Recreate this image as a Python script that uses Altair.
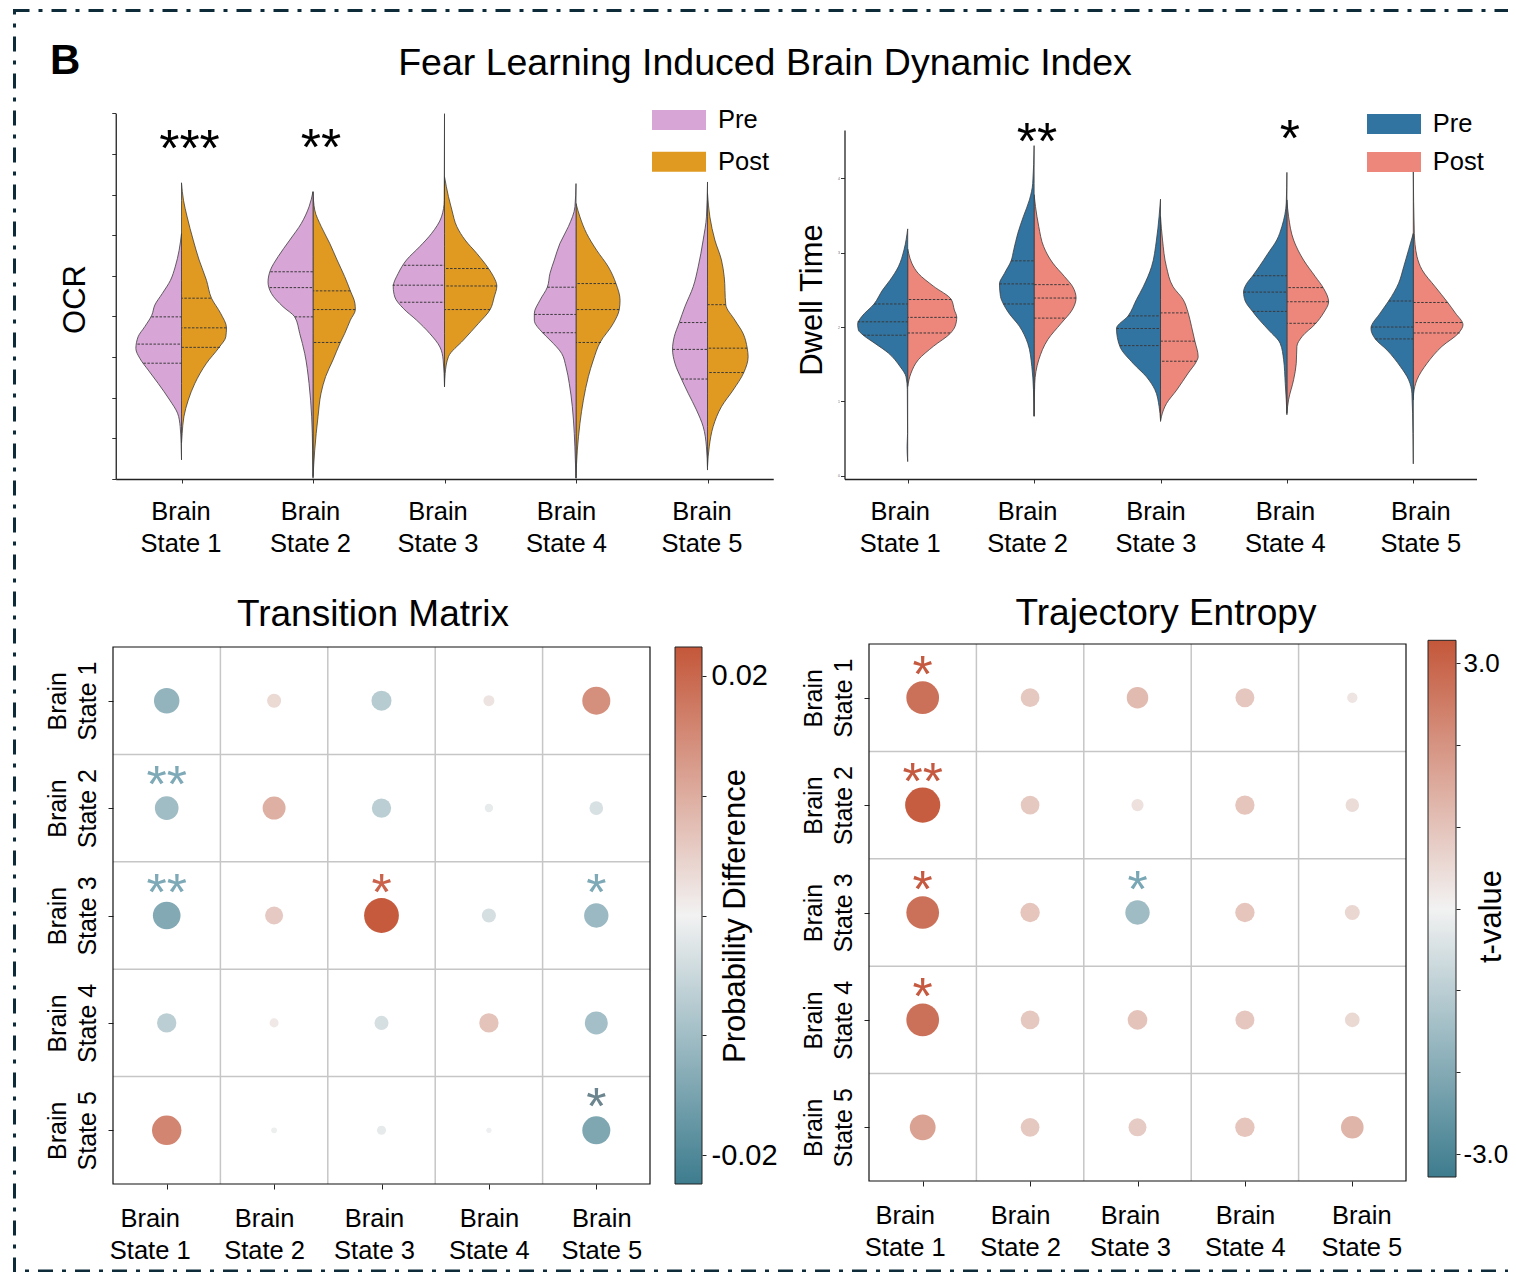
import json
import altair as alt
import pandas as pd

# ---------------------------------------------------------------- data
STATES = ["Brain State 1", "Brain State 2", "Brain State 3", "Brain State 4", "Brain State 5"]
GROUPS = ["Pre", "Post"]

# OCR split violins: (value, half-width in category units), one list per brain state
OCR_PRE = [
    [(6.04, 0), (5.63, .018), (5.22, .048), (4.89, .084), (4.57, .145), (4.28, .203), (4.03, .226), (3.75, .279),
     (3.50, .33), (3.21, .347), (2.97, .317), (2.68, .253), (2.35, .177), (1.94, .089), (1.62, .030), (1.29, .010),
     (0.88, .003), (0.47, 0)],
    [(7.07, 0), (6.70, .030), (6.29, .089), (5.88, .177), (5.47, .266), (5.14, .324), (4.85, .342), (4.57, .317),
     (4.24, .228), (3.99, .139), (3.58, .101), (3.09, .063), (2.35, .030), (1.53, .010), (0.71, .003), (0.06, 0)],
    [(8.99, 0), (6.86, .002), (6.45, .023), (6.04, .099), (5.72, .188), (5.39, .289), (5.06, .352), (4.73, .39),
     (4.48, .378), (4.20, .314), (3.91, .213), (3.58, .112), (3.25, .035), (2.93, .01), (2.27, 0)],
    [(7.27, 0), (6.70, .008), (6.21, .058), (5.80, .122), (5.39, .165), (5.06, .198), (4.72, .218), (4.40, .274),
     (4.07, .317), (3.91, .317), (3.60, .254), (3.42, .198), (3.09, .109), (2.76, .076), (2.35, .051), (1.78, .028),
     (1.12, .013), (0.47, .005), (0.02, 0)],
    [(7.31, 0), (6.45, .008), (5.88, .033), (5.22, .071), (4.73, .109), (4.24, .172), (3.85, .215), (3.50, .253),
     (3.19, .266), (2.85, .248), (2.46, .198), (2.11, .147), (1.70, .084), (1.29, .033), (0.79, .008), (0.22, 0)],
]
OCR_POST = [
    [(7.29, 0), (6.86, .015), (6.45, .043), (5.88, .089), (5.39, .134), (4.89, .19), (4.45, .228), (4.08, .297),
     (3.72, .342), (3.50, .337), (3.24, .286), (2.85, .19), (2.35, .101), (1.94, .051), (1.53, .018), (1.12, .005),
     (0.88, 0)],
    [(7.07, 0), (6.62, .013), (6.21, .063), (5.80, .127), (5.39, .183), (4.98, .241), (4.63, .284), (4.32, .319),
     (4.17, .322), (3.91, .284), (3.58, .241), (3.36, .208), (2.93, .152), (2.52, .096), (2.11, .061), (1.53, .038),
     (0.71, .013), (0.02, 0)],
    [(7.44, 0), (6.95, .030), (6.62, .056), (6.21, .094), (5.88, .157), (5.55, .246), (5.18, .335), (4.98, .373),
     (4.75, .398), (4.48, .378), (4.17, .347), (3.83, .259), (3.42, .144), (3.01, .030), (2.60, .005), (2.27, 0)],
    [(6.78, 0), (6.45, .030), (6.04, .081), (5.63, .157), (5.22, .246), (4.81, .304), (4.40, .335), (4.17, .329),
     (3.83, .284), (3.36, .183), (2.93, .132), (2.52, .094), (1.94, .056), (1.37, .030), (0.71, .010), (0.02, 0)],
    [(7.03, 0), (6.45, .018), (5.88, .056), (5.39, .106), (4.98, .127), (4.29, .139), (3.91, .208), (3.58, .271),
     (3.22, .302), (3.01, .309), (2.62, .276), (2.19, .195), (1.78, .106), (1.29, .043), (0.79, .013), (0.30, 0)],
]
# quartile lines (Q3, median, Q1): (value, half-width)
OCR_PRE_Q = [[(3.99, .228), (3.32, .335), (2.85, .29)], [(5.10, .324), (4.71, .33), (3.99, .139)],
             [(5.26, .309), (4.77, .395), (4.35, .339)], [(4.72, .218), (4.05, .317), (3.60, .254)],
             [(3.85, .21), (3.19, .266), (2.46, .198)]]
OCR_POST_Q = [[(4.45, .223), (3.72, .342), (3.24, .292)], [(4.63, .284), (4.17, .322), (3.36, .208)],
              [(5.18, .335), (4.75, .398), (4.17, .347)], [(4.81, .304), (4.17, .329), (3.36, .19)],
              [(4.29, .139), (3.22, .302), (2.62, .276)]]
OCR_STARS = ["***", "**", "", "", ""]
OCR_STAR_Y = [8.34, 8.36, 0, 0, 0]

DWELL_PRE = [
    [(3.32, 0), (3.04, .029), (2.81, .074), (2.63, .140), (2.50, .198), (2.31, .266), (2.14, .364), (2.04, .396),
     (1.96, .390), (1.89, .351), (1.78, .259), (1.65, .153), (1.47, .061), (1.33, .013), (1.16, .003), (0.57, .001),
     (0.39, .005), (0.19, 0)],
    [(4.44, 0), (3.93, .011), (3.71, .037), (3.49, .084), (3.26, .129), (3.04, .161), (2.89, .182), (2.72, .235),
     (2.58, .274), (2.41, .266), (2.31, .243), (2.19, .201), (2.01, .116), (1.78, .050), (1.47, .018), (1.16, .005),
     (0.80, 0)],
    [(3.72, 0), (3.49, .011), (3.17, .032), (2.81, .071), (2.54, .137), (2.37, .19), (2.15, .256), (1.98, .348),
     (1.74, .322), (1.51, .216), (1.33, .111), (1.16, .045), (0.93, .011), (0.75, 0)],
    [(4.08, 0), (3.67, .005), (3.35, .040), (3.17, .080), (2.99, .150), (2.81, .220), (2.69, .270), (2.58, .320),
     (2.47, .343), (2.35, .330), (2.21, .272), (2.09, .215), (1.96, .145), (1.78, .053), (1.56, .026), (1.24, .013),
     (1.02, .005), (0.82, 0)],
    [(3.26, 0), (3.04, .037), (2.81, .076), (2.59, .116), (2.35, .195), (2.19, .261), (1.98, .335), (1.84, .301),
     (1.69, .208), (1.47, .103), (1.29, .037), (1.11, .011), (0.57, .003), (0.16, 0)],
]
DWELL_POST = [
    [(3.05, 0), (2.99, .008), (2.86, .032), (2.72, .084), (2.55, .203), (2.37, .345), (2.23, .369), (2.13, .388),
     (2.01, .375), (1.92, .340), (1.74, .203), (1.56, .084), (1.38, .026), (1.20, 0)],
    [(3.78, 0), (3.62, .011), (3.35, .037), (3.08, .076), (2.86, .148), (2.68, .240), (2.54, .306), (2.39, .332),
     (2.23, .301), (2.05, .214), (1.83, .108), (1.56, .037), (1.24, .005), (0.80, 0)],
    [(3.49, 0), (3.17, .016), (2.81, .047), (2.54, .100), (2.37, .179), (2.19, .219), (2.01, .245), (1.81, .272),
     (1.60, .298), (1.54, .285), (1.38, .219), (1.15, .127), (0.97, .047), (0.80, .008), (0.73, 0)],
    [(3.71, 0), (3.49, .013), (3.17, .053), (2.90, .132), (2.68, .224), (2.52, .290), (2.34, .330), (2.19, .290),
     (2.04, .224), (1.87, .119), (1.74, .079), (1.51, .074), (1.29, .053), (1.02, .013), (0.84, 0)],
    [(4.11, 0), (3.26, .008), (2.95, .029), (2.77, .069), (2.54, .174), (2.33, .272), (2.19, .332), (2.03, .393),
     (1.92, .359), (1.74, .227), (1.51, .108), (1.29, .029), (1.11, .003), (1.02, 0)],
]
DWELL_PRE_Q = [[(2.31, .266), (2.07, .396), (1.89, .351)], [(2.89, .182), (2.58, .274), (2.31, .243)],
               [(2.15, .256), (1.98, .348), (1.75, .32)], [(2.69, .269), (2.47, .343), (2.21, .269)],
               [(2.35, .195), (2.00, .335), (1.84, .301)]]
DWELL_POST_Q = [[(2.37, .345), (2.13, .388), (1.92, .335)], [(2.57, .274), (2.39, .332), (2.12, .24)],
                [(2.19, .206), (1.81, .272), (1.54, .285)], [(2.53, .285), (2.34, .330), (2.05, .229)],
                [(2.33, .272), (2.06, .385), (1.92, .367)]]
DWELL_STARS = ["", "**", "", "*", ""]
DWELL_STAR_Y = [0, 4.61, 0, 4.65, 0]

# Transition matrix: probability difference (rows = from state, cols = to state)
TM_VALUES = [
    [-0.0118, 0.0036, -0.0073, 0.0022, 0.0143],
    [-0.0102, 0.0096, -0.0068, -0.0013, -0.0034],
    [-0.0139, 0.0059, 0.0220, -0.0036, -0.0108],
    [-0.0068, 0.0015, -0.0036, 0.0068, -0.0096],
    [0.0157, -0.0006, -0.0015, -0.0005, -0.0143],
]
TM_STARS = [(1, 0, "**"), (2, 0, "**"), (2, 2, "*"), (2, 4, "*"), (4, 4, "*")]
TM_STAR_COLORS = ["#7ea9b7", "#7ea9b7", "#cb624b", "#7ea9b7", "#6c858e"]

# Trajectory entropy: t-values
TE_VALUES = [
    [2.68, 0.88, 1.16, 0.90, 0.27],
    [3.10, 0.88, 0.37, 0.94, 0.46],
    [2.68, 0.94, -1.49, 0.94, 0.56],
    [2.68, 0.88, 0.97, 0.90, 0.54],
    [1.67, 0.88, 0.81, 0.94, 1.28],
]
TE_STARS = [(0, 0, "*"), (1, 0, "**"), (2, 0, "*"), (3, 0, "*"), (2, 2, "*")]
TE_STAR_COLORS = ["#c65a40", "#c65a40", "#c65a40", "#c65a40", "#7aa7b5"]

CB1_TICKS = [-0.02, -0.01, 0, 0.01, 0.02]
CB1_LABELS = ["-0.02", "", "", "", "0.02"]
CB2_TICKS = [-3, -2, -1, 0, 1, 2, 3]
CB2_LABELS = ["-3.0", "", "", "", "", "", "3.0"]

# ---------------------------------------------------------------- style / layout
FONT = "Liberation Sans"
STAR_FONT = "Liberation Sans"
STAR_SIZE = 52
W, H = 1495, 1262
PRE1, POST1 = "#d7a6d6", "#e09a21"
PRE2, POST2 = "#3173a1", "#ed877c"
LOW, MID, HIGH = "#3d7c8e", "#f2f2f2", "#c4573a"
GRID = "#c6c6c6"
BORDER = "#0e2b3a"
RECT_SYMBOL = "M-2,-0.74H2V0.74H-2Z"
# horizontal nudges (px) of the category tick labels, as placed in the figure
OCR_LABEL_DX = [-1, -3, -7, -10, -6]
DWELL_LABEL_DX = [-8, -7, -5, -2, 7]
TM_LABEL_DX = [-17, -10, -7.5, 0, 5]
TE_LABEL_DX = [-18, -10, -7.5, 0, 9]

LABELS = json.dumps([s.split(" ", 1) for s in STATES])
STATE_LABEL_EXPR = f"{LABELS}[round(datum.value)]"
EDGE = "datum.state + (datum.grp === 'Pre' ? -datum.w : datum.w)"


def lin(domain, rng):
    return alt.Scale(domain=domain, range=rng, nice=False, zero=False)


def nudge(dx):
    return alt.ExprRef(expr=f"{json.dumps(dx)}[round(datum.value)]")


def violin_panel(pre, post, pre_q, post_q, stars, star_y, star_dx, colors, xr, yr, ydom, yticks,
                 ytitle, ytitle_x, ytitle_y, ylabel_size, legend, label_dx):
    rows, qrows, srows = [], [], []
    for i in range(5):
        for grp, shape, quart in (("Pre", pre[i], pre_q[i]), ("Post", post[i], post_q[i])):
            for y, w in shape:
                rows.append(dict(state=i, grp=grp, key=f"{grp}{i}", y=y, w=w))
            for y, w in quart:
                qrows.append(dict(state=i, grp=grp, y=y, w=w))
        if stars[i]:
            srows.append(dict(state=i, label=stars[i], y=star_y[i]))
    df = pd.DataFrame(rows).sort_values(["key", "y"])
    qdf = pd.DataFrame(qrows)
    sdf = pd.DataFrame(srows)
    xs = lin([-0.5, 4.5], xr)
    ys = lin(ydom, yr)
    x_axis = alt.Axis(orient="bottom", offset=yr[0] - H, values=[0, 1, 2, 3, 4], labelExpr=STATE_LABEL_EXPR,
                      labelFontSize=25.5, labelLineHeight=32, labelBaseline="top", labelAlign="center",
                      labelPadding=16, labelFlush=False, labelOverlap=False, labelOffset=nudge(label_dx),
                      tickSize=4, tickColor="#333", domainColor="#222", domainWidth=1.3, grid=False, title=None)
    y_axis = alt.Axis(orient="left", offset=-xr[0], values=yticks, labels=ylabel_size > 1,
                      labelFontSize=max(ylabel_size, 1), labelPadding=1, labelColor="#666", tickSize=4,
                      tickColor="#333", domainColor="#222", domainWidth=1.3, grid=False, title=ytitle,
                      titleFontSize=31, titleAngle=270, titleAlign="center", titleBaseline="middle",
                      titleX=ytitle_x, titleY=ytitle_y)
    area = alt.Chart(df).transform_calculate(edge=EDGE).mark_area(
        orient="horizontal", interpolate="monotone", stroke="#3c3c3c", strokeWidth=0.8, opacity=1
    ).encode(
        y=alt.Y("y:Q", scale=ys, axis=y_axis),
        x=alt.X("edge:Q", scale=xs, axis=x_axis),
        x2="state:Q",
        color=alt.Color("grp:N", scale=alt.Scale(domain=GROUPS, range=colors), legend=legend),
        detail="key:N",
    )
    quart = alt.Chart(qdf).transform_calculate(edge=EDGE).mark_rule(
        color="#3a3a3a", strokeWidth=1, strokeDash=[2.5, 1.5]
    ).encode(
        y=alt.Y("y:Q", scale=ys, axis=y_axis),
        x=alt.X("edge:Q", scale=xs, axis=x_axis),
        x2="state:Q",
    )
    star = alt.Chart(sdf).mark_text(
        font=STAR_FONT, fontSize=STAR_SIZE, dy=26, dx=star_dx, color="black", align="center",
        baseline="alphabetic"
    ).encode(
        x=alt.X("state:Q", scale=xs, axis=x_axis),
        y=alt.Y("y:Q", scale=ys, axis=y_axis),
        text="label:N",
    )
    return alt.layer(area, quart, star)


def matrix_panel(values, stars, star_colors, xr, yr, cmax, max_area, label_dx):
    cells = pd.DataFrame([dict(r=r, c=c, v=values[r][c]) for r in range(5) for c in range(5)])
    sdf = pd.DataFrame([dict(r=r, c=c, label=lab, col=col) for (r, c, lab), col in zip(stars, star_colors)])
    gdf = pd.DataFrame({"g": [0.5, 1.5, 2.5, 3.5]})
    one = pd.DataFrame({"a": [0]})
    xs = lin([-0.5, 4.5], xr)
    ys = lin([-0.5, 4.5], yr)
    x_axis = alt.Axis(orient="bottom", offset=yr[1] - H, values=[0, 1, 2, 3, 4], labelExpr=STATE_LABEL_EXPR,
                      labelFontSize=25.5, labelLineHeight=32, labelBaseline="top", labelAlign="center",
                      labelPadding=17, labelFlush=False, labelOverlap=False, labelOffset=nudge(label_dx),
                      tickSize=5, tickColor="#222", domain=False, grid=False, title=None)
    y_axis = alt.Axis(orient="left", offset=-xr[0], values=[0, 1, 2, 3, 4], labelExpr=STATE_LABEL_EXPR,
                      labelFontSize=25, labelLineHeight=30, labelAngle=270, labelAlign="center",
                      labelBaseline="bottom", labelPadding=37.5, labelFlush=False, labelOverlap=False,
                      tickSize=5, tickColor="#222", domain=False, grid=False, title=None)
    vgrid = alt.Chart(gdf).mark_rule(color=GRID, strokeWidth=1.5).encode(
        x=alt.X("g:Q", scale=xs, axis=x_axis),
        y=alt.YDatum(-0.5, scale=ys, axis=y_axis),
        y2=alt.Y2Datum(4.5),
    )
    hgrid = alt.Chart(gdf).mark_rule(color=GRID, strokeWidth=1.5).encode(
        y=alt.Y("g:Q", scale=ys, axis=y_axis),
        x=alt.XDatum(-0.5, scale=xs, axis=x_axis),
        x2=alt.X2Datum(4.5),
    )
    circles = alt.Chart(cells).transform_calculate(a="abs(datum.v)").mark_circle(opacity=1).encode(
        x=alt.X("c:Q", scale=xs, axis=x_axis),
        y=alt.Y("r:Q", scale=ys, axis=y_axis),
        color=alt.Color("v:Q", scale=alt.Scale(domain=[-cmax, 0, cmax], range=[LOW, MID, HIGH],
                                               interpolate="rgb", clamp=True), legend=None),
        size=alt.Size("a:Q", scale=alt.Scale(domain=[0, cmax], range=[0, max_area], zero=True), legend=None),
    )
    star = alt.Chart(sdf).mark_text(
        font=STAR_FONT, fontSize=STAR_SIZE, dy=-6, align="center", baseline="alphabetic"
    ).encode(
        x=alt.X("c:Q", scale=xs, axis=x_axis),
        y=alt.Y("r:Q", scale=ys, axis=y_axis),
        text="label:N",
        color=alt.Color("col:N", scale=None),
    )
    frame = alt.Chart(one).mark_rect(fillOpacity=0, stroke="#111", strokeWidth=1.2).encode(
        x=alt.XDatum(-0.5, scale=xs, axis=x_axis), x2=alt.X2Datum(4.5),
        y=alt.YDatum(-0.5, scale=ys, axis=y_axis), y2=alt.Y2Datum(4.5),
    )
    return alt.layer(vgrid, hgrid, circles, star, frame)


def colorbar(cmax, xr, yr, ticks, labels, title, title_x, title_y, label_size, label_pad):
    one = pd.DataFrame({"a": [0]})
    grad = alt.LinearGradient(
        gradient="linear",
        stops=[alt.GradientStop(color=LOW, offset=0), alt.GradientStop(color=MID, offset=0.5),
               alt.GradientStop(color=HIGH, offset=1)],
        x1=0, x2=0, y1=1, y2=0,
    )
    expr = f"{json.dumps(labels)}[indexof({json.dumps(ticks)}, datum.value)]"
    axis = alt.Axis(orient="right", offset=xr[1] - W, values=ticks, labelExpr=expr, labelFontSize=label_size,
                    labelPadding=label_pad, labelAlign="left", labelBaseline="middle", labelFlush=False,
                    labelOverlap=False, tickSize=4, tickColor="#222", domain=False, grid=False,
                    title=title, titleFontSize=31, titleAngle=270, titleAlign="center",
                    titleBaseline="middle", titleX=title_x, titleY=title_y)
    return alt.Chart(one).mark_rect(fill=grad, stroke="#222", strokeWidth=1).encode(
        x=alt.XDatum(0, scale=lin([0, 1], xr), axis=None), x2=alt.X2Datum(1),
        y=alt.YDatum(-cmax, scale=lin([-cmax, cmax], yr), axis=axis), y2=alt.Y2Datum(cmax),
    )


def text_mark(text, x, y, size, weight="normal", align="center"):
    return alt.Chart(pd.DataFrame({"t": [text]})).mark_text(
        font=FONT, fontSize=size, fontWeight=weight, align=align, baseline="alphabetic", color="black"
    ).encode(x=alt.value(x), y=alt.value(y), text="t:N")


def legend(x, y, row_pad, label_offset):
    return alt.Legend(orient="none", legendX=x, legendY=y, title=None, symbolType=RECT_SYMBOL,
                      symbolSize=729, symbolStrokeWidth=0, symbolOffset=13.5, symbolOpacity=1,
                      labelOffset=label_offset, rowPadding=row_pad, labelFontSize=25.5, padding=0,
                      labelColor="black")


ocr = violin_panel(OCR_PRE, OCR_POST, OCR_PRE_Q, OCR_POST_Q, OCR_STARS, OCR_STAR_Y, 8, [PRE1, POST1],
                   [102.75, 760.25], [469, 103.3], [0, 9], list(range(10)), "OCR", -40.75, 289, 0,
                   legend(639, 96.5, 14.7, 25.5), OCR_LABEL_DX)
dwell = violin_panel(DWELL_PRE, DWELL_POST, DWELL_PRE_Q, DWELL_POST_Q, DWELL_STARS, DWELL_STAR_Y, 3,
                     [PRE2, POST2], [831.5, 1463.5], [469, 120], [-0.044, 4.65], [0, 1, 2, 3, 4],
                     "Dwell Time", -32, 289.5, 3.5, legend(1354, 100.5, 11, 25.2), DWELL_LABEL_DX)
tm = matrix_panel(TM_VALUES, TM_STARS, TM_STAR_COLORS, [100, 637], [637, 1174], 0.0224, 1232, TM_LABEL_DX)
te = matrix_panel(TE_VALUES, TE_STARS, TE_STAR_COLORS, [856, 1393], [634, 1171], 3.23, 1289, TE_LABEL_DX)
cb1 = colorbar(0.0224, [662, 689], [1174, 637], CB1_TICKS, CB1_LABELS, "Probability Difference", 33, 905.5,
               29, 5)
cb2 = colorbar(3.28, [1415, 1443], [1167, 630.3], CB2_TICKS, CB2_LABELS, "t-value", 35, 906, 26, 3)

border = alt.Chart(pd.DataFrame({"a": [0]})).mark_rect(
    fillOpacity=0, stroke=BORDER, strokeWidth=3, strokeDash=[15, 9, 4, 9]
).encode(x=alt.value(1.5), x2=alt.value(W + 60), y=alt.value(0.5), y2=alt.value(H - 1))

chart = alt.layer(
    border,
    text_mark("Fear Learning Induced Brain Dynamic Index", 752, 64.5, 37.5),
    text_mark("B", 37, 64, 42, weight="bold", align="left"),
    text_mark("Transition Matrix", 360, 616, 37),
    text_mark("Trajectory Entropy", 1153, 615, 37),
    ocr, dwell, tm, cb1, te, cb2,
).resolve_scale(
    x="independent", y="independent", color="independent", size="independent"
).resolve_axis(
    x="independent", y="independent"
).resolve_legend(
    color="independent", size="independent"
).properties(
    width=W, height=H, padding={"left": 5, "top": 2, "right": 0, "bottom": 0},
    autosize=alt.AutoSizeParams(type="none"),
).configure_view(
    strokeWidth=0
).configure_axis(
    labelFont=FONT, titleFont=FONT, labelColor="black", titleColor="black", titleFontWeight="normal"
).configure_legend(
    labelFont=FONT
)

chart.save("out.html", embed_options={"renderer": "svg", "actions": False})
